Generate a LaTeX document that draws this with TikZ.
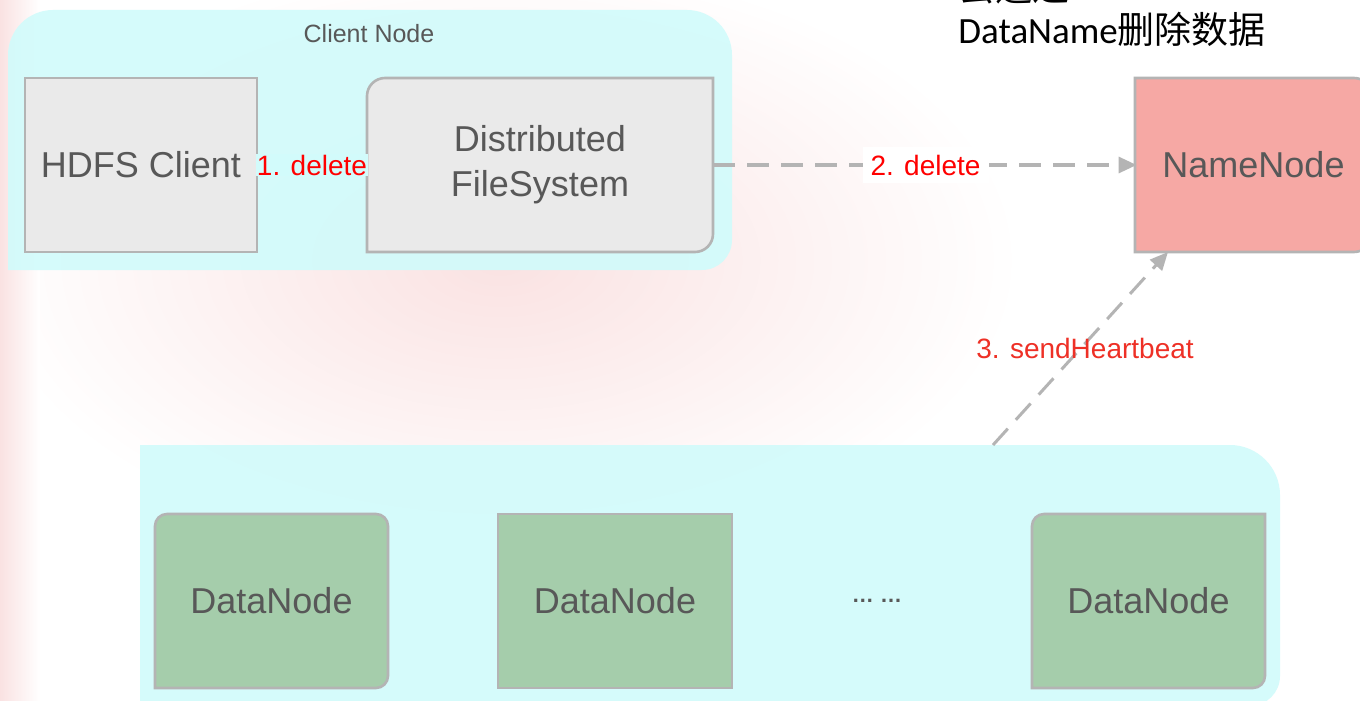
\documentclass[tikz,border=0pt]{standalone}
\usepackage{fontspec}
\setmainfont{Liberation Sans}
\newfontfamily\cjk{Noto Sans CJK SC}
\newfontfamily\calib{Carlito}
\usetikzlibrary{arrows.meta,calc}
\definecolor{cyanbg}{RGB}{210,251,251}
\definecolor{boxgray}{RGB}{234,234,234}
\definecolor{edgegray}{RGB}{180,180,180}
\definecolor{nnred}{RGB}{246,168,164}
\definecolor{dngreen}{RGB}{165,205,171}
\definecolor{txtgray}{RGB}{88,88,88}
\definecolor{lblred}{RGB}{255,0,0}
\definecolor{lblredb}{RGB}{238,48,38}
\definecolor{wmark}{RGB}{250,226,226}
% rounded rectangle with individual corner radii (px units)
\newcommand\myrrect[9]{%
\path[#1] (#2,#3+#6) .. controls (#2,#3+0.45*#6) and (#2+0.45*#6,#3) .. (#2+#6,#3)
 -- (#4-#7,#3) .. controls (#4-0.45*#7,#3) and (#4,#3+0.45*#7) .. (#4,#3+#7)
 -- (#4,#5-#8) .. controls (#4,#5-0.45*#8) and (#4-0.45*#8,#5) .. (#4-#8,#5)
 -- (#2+#9,#5) .. controls (#2+0.45*#9,#5) and (#2,#5-0.45*#9) .. (#2,#5-#9) -- cycle;}
\tikzset{
  boxline/.style={draw=edgegray,line width=1.3pt},
  bigtxt/.style={text=txtgray,font=\fontsize{18}{22.5}\selectfont,align=center,inner sep=0pt},
  boxnode/.style={bigtxt,minimum width=116.5pt,minimum height=87pt},
  lbl/.style={text=lblred,font=\fontsize{14}{16}\selectfont,inner sep=0pt},
  solidcon/.style={draw=edgegray,line width=1.5pt},
  dashcon/.style={draw=edgegray,line width=1.5pt,dash pattern=on 11pt off 6pt,
     -{Triangle[length=9pt,width=8pt]}},
}
\begin{document}
\begin{tikzpicture}[x=0.5pt,y=-0.5pt]
\useasboundingbox (0,0) rectangle (1360,701);
\clip (0,0) rectangle (1360,701);
\fill[white] (0,0) rectangle (1360,701);
% faint watermark
\shade[inner color=wmark,outer color=white] (500,260) ellipse (520 and 300);
\shade[left color=wmark,right color=white] (0,0) rectangle (40,701);
% containers
\myrrect{fill=cyanbg,opacity=0.93}{8}{10}{732}{270}{45}{45}{30}{0}
\myrrect{fill=cyanbg,opacity=0.93}{140}{445}{1280}{706}{0}{50}{30}{0}
\node[text=txtgray,font=\fontsize{12.5}{14}\selectfont,inner sep=0pt] (cn) at (369,34) {Client Node};
% boxes
\myrrect{fill=boxgray,boxline}{25}{78}{257}{252}{0}{0}{0}{0}
\node[boxnode] (hdfs) at (141,165) {HDFS Client};
\myrrect{fill=boxgray,boxline}{367}{78}{713}{252}{18}{0}{18}{0}
\node[boxnode,minimum width=173pt] (dfs) at (540,165) {Distributed\\FileSystem};
\myrrect{fill=nnred,boxline}{1135}{78}{1372}{252}{0}{18}{18}{0}
\node[boxnode] (nn) at (1253.5,165) {NameNode};
\myrrect{fill=dngreen,boxline}{155}{514}{388}{688}{12}{12}{12}{0}
\node[boxnode] (dn1) at (271.5,601) {DataNode};
\myrrect{fill=dngreen,boxline}{498}{514}{732}{688}{0}{0}{0}{0}
\node[boxnode] (dn2) at (615,601) {DataNode};
\myrrect{fill=dngreen,boxline}{1032}{514}{1265}{688}{12}{0}{12}{0}
\node[boxnode] (dn3) at (1148.5,601) {DataNode};
\node[text=txtgray,font=\fontsize{11}{12}\selectfont,inner sep=0pt] (dots) at (877,601) {\textbf{\dots\ \dots}};
% connectors
\draw[solidcon] (hdfs.east) -- (dfs.west);
\node[lbl,fill=cyanbg,inner sep=0.5pt] (l1) at (312,165) {1. delete};
\draw[dashcon] (dfs.east) -- (nn.west);
\node[lbl,fill=white,inner sep=4pt] (l2) at (925.5,165) {2. delete};
\coordinate (hb) at (993,445);
\coordinate (nntip) at (1168,252);
\draw[dashcon] (hb) -- (nntip);
\node[lbl,text=lblredb] (l3) at (1085,348) {3. sendHeartbeat};
% top-right note
\node[anchor=base west,inner sep=0pt,font=\fontsize{18.5}{20}\selectfont] (n1) at (958,2) {\cjk 去通过};
\node[anchor=base west,inner sep=0pt,font=\fontsize{18.5}{20}\selectfont] (n2) at (958,44) {\calib DataName\cjk 删除数据};
\end{tikzpicture}
\end{document}
